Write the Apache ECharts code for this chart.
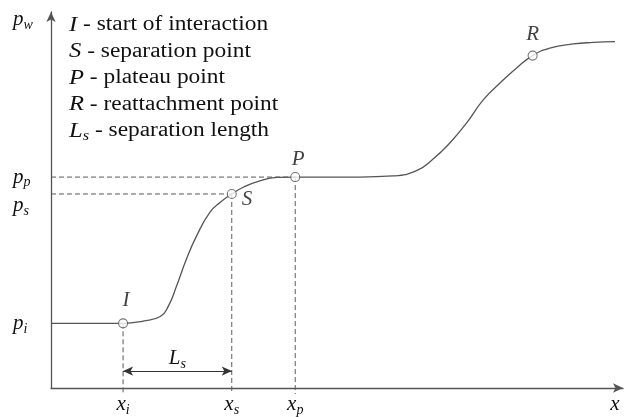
<!DOCTYPE html>
<html>
<head>
<meta charset="utf-8">
<script src="https://cdn.jsdelivr.net/npm/echarts@6/dist/echarts.min.js"></script>
<style>
  html, body { margin: 0; padding: 0; background: #fff; }
  #chart { width: 629px; height: 417px; }
</style>
</head>
<body>
<div id="chart"></div>
<script>
// Wall pressure p_w along x through a shock / boundary-layer interaction.
const curveX = [0, 12.6, 16.1, 19.1, 20.5, 22.0, 23.7, 25.5, 27.8, 29.6, 31.6, 33.6, 36.5, 39.5, 42.7,
                48.5, 54.0, 59.8, 63.9, 66.8, 69.8, 72.7, 75.6, 78.5, 81.4, 84.2, 87.2, 91.3, 94.8, 98.6];
const curveP = [17.2, 17.2, 17.8, 19.0, 21.7, 27.3, 34.4, 40.6, 46.8, 49.4, 51.6, 53.4, 55.1, 56.0, 56.1,
                56.1, 56.1, 56.4, 57.8, 60.9, 65.3, 70.6, 76.7, 81.1, 85.1, 88.4, 90.4, 91.5, 91.9, 92.1];

// Characteristic points: start of interaction, separation, plateau, reattachment
const pointNames = ['I', 'S', 'P', 'R'];
const pointX = [12.6, 31.6, 42.7, 84.2];
const pointP = [17.2, 51.6, 56.1, 88.4];

// Pressure levels on the vertical axis
const pLevelValues = [17.2, 51.6, 56.1, 97.9];
const pLevelLabels = [['p', 'i'], ['p', 's'], ['p', 'p'], ['p', 'w']];

// Positions on the horizontal axis
const xTickValues = [12.6, 31.6, 42.7, 98.6];
const xTickLabels = [['x', 'i'], ['x', 's'], ['x', 'p'], ['x', '']];

// Separation length arrow (from x_i to x_s)
const lsFrom = 12.6;
const lsTo = 31.6;
const lsLevel = 4.5;
const guideBottom = -1.6;

// Key to the symbols
const legendItems = [
  ['I', '', 'start of interaction'],
  ['S', '', 'separation point'],
  ['P', '', 'plateau point'],
  ['R', '', 'reattachment point'],
  ['L', 's', 'separation length']
];

const SERIF = '"Liberation Serif", "Times New Roman", serif';
const INK = '#111';
const LINE = '#555';

const symRich = {
  m:  { fontFamily: SERIF, fontStyle: 'italic', fontSize: 21, lineHeight: 21, color: INK },
  s:  { fontFamily: SERIF, fontStyle: 'italic', fontSize: 14, lineHeight: 14, padding: [11, 0, 0, 0], color: INK },
  ml: { fontFamily: SERIF, fontStyle: 'italic', fontSize: 21, lineHeight: 21, padding: [24, 0, 0, 0], color: INK },
  sl: { fontFamily: SERIF, fontStyle: 'italic', fontSize: 14, lineHeight: 14, padding: [35, 0, 0, 0], color: INK },
  t:  { fontFamily: SERIF, fontSize: 20, lineHeight: 20, color: INK }
};

function symbolText(pair, lowered) {
  const a = lowered ? 'ml' : 'm';
  const b = lowered ? 'sl' : 's';
  return '{' + a + '|' + pair[0] + '}' + (pair[1] ? '{' + b + '|' + pair[1] + '}' : '');
}

function lookup(values, v) {
  for (let i = 0; i < values.length; i++) {
    if (Math.abs(values[i] - v) < 1e-6) return i;
  }
  return -1;
}

function guide(data) {
  return {
    type: 'line', data: data, symbol: 'none', silent: true, clip: false, z: 1,
    lineStyle: { color: '#5a5a5a', width: 1, type: [5, 3] }
  };
}

const series = [];

// Dashed guides from the marked points to both axes
series.push(guide([[0, pointP[2]], [pointX[2], pointP[2]]]));
series.push(guide([[0, pointP[1]], [pointX[1], pointP[1]]]));
for (let k = 0; k < 3; k++) {
  series.push(guide([[pointX[k], pointP[k]], [pointX[k], guideBottom]]));
}

// Pressure curve
series.push({
  type: 'line',
  data: curveX.map((x, i) => [x, curveP[i]]),
  symbol: 'none',
  smooth: 0.5,
  lineStyle: { color: LINE, width: 1.3 },
  z: 3,
  markLine: {
    silent: true,
    symbol: ['arrow', 'arrow'],
    symbolSize: [7, 10],
    lineStyle: { color: '#333', width: 1.2, type: 'solid' },
    label: {
      show: true,
      position: 'middle',
      distance: 2,
      formatter: symbolText(['L', 's']),
      rich: symRich
    },
    data: [[{ coord: [lsFrom, lsLevel] }, { coord: [lsTo, lsLevel] }]]
  }
});

// Marked points (hollow rings)
const labelPlacement = {
  I: { position: 'top', distance: 7, offset: [3, 0] },
  S: { position: 'right', distance: 5, offset: [0, 6] },
  P: { position: 'top', distance: 4, offset: [3, 2] },
  R: { position: 'top', distance: 6, offset: [0, 0] }
};
series.push({
  type: 'scatter',
  z: 5,
  symbol: 'circle',
  symbolSize: 9,
  itemStyle: { color: '#fff', borderColor: LINE, borderWidth: 1.1 },
  data: pointNames.map((n, i) => ({
    value: [pointX[i], pointP[i]],
    name: n,
    label: Object.assign({
      show: true,
      formatter: '{m|' + n + '}',
      rich: symRich
    }, labelPlacement[n])
  }))
});

const chart = echarts.init(document.getElementById('chart'), null, { renderer: 'canvas' });
chart.setOption({
  animation: false,
  backgroundColor: '#fff',
  grid: { left: 51, right: 6, top: 12, bottom: 27, containLabel: false },
  xAxis: {
    type: 'value', min: 0, max: 100,
    splitLine: { show: false },
    axisTick: { show: false },
    axisLine: {
      show: true, onZero: false,
      symbol: ['none', 'arrow'], symbolSize: [7, 10],
      lineStyle: { color: LINE, width: 1.3 }
    },
    axisLabel: {
      show: true,
      customValues: xTickValues,
      margin: 6,
      rich: symRich,
      formatter: v => {
        const i = lookup(xTickValues, v);
        return i < 0 ? '' : symbolText(xTickLabels[i]);
      }
    }
  },
  yAxis: {
    type: 'value', min: 0, max: 100,
    splitLine: { show: false },
    axisTick: { show: false },
    axisLine: {
      show: true, onZero: false,
      symbol: ['none', 'arrow'], symbolSize: [7, 10],
      lineStyle: { color: LINE, width: 1.3 }
    },
    axisLabel: {
      show: true,
      customValues: pLevelValues,
      align: 'left',
      margin: 38,
      rich: symRich,
      formatter: v => {
        const i = lookup(pLevelValues, v);
        if (i < 0) return '';
        return symbolText(pLevelLabels[i], pLevelLabels[i][1] === 's');
      }
    }
  },
  graphic: legendItems.map((item, i) => ({
    type: 'text',
    x: 69,
    y: 25 + i * 26.5,
    scaleX: 1.17,
    silent: true,
    style: {
      x: 0, y: 0,
      text: symbolText([item[0], item[1]]) + '{t| - ' + item[2] + '}',
      rich: symRich,
      fill: INK,
      align: 'left',
      verticalAlign: 'middle'
    }
  })),
  series: series
});
</script>
</body>
</html>
